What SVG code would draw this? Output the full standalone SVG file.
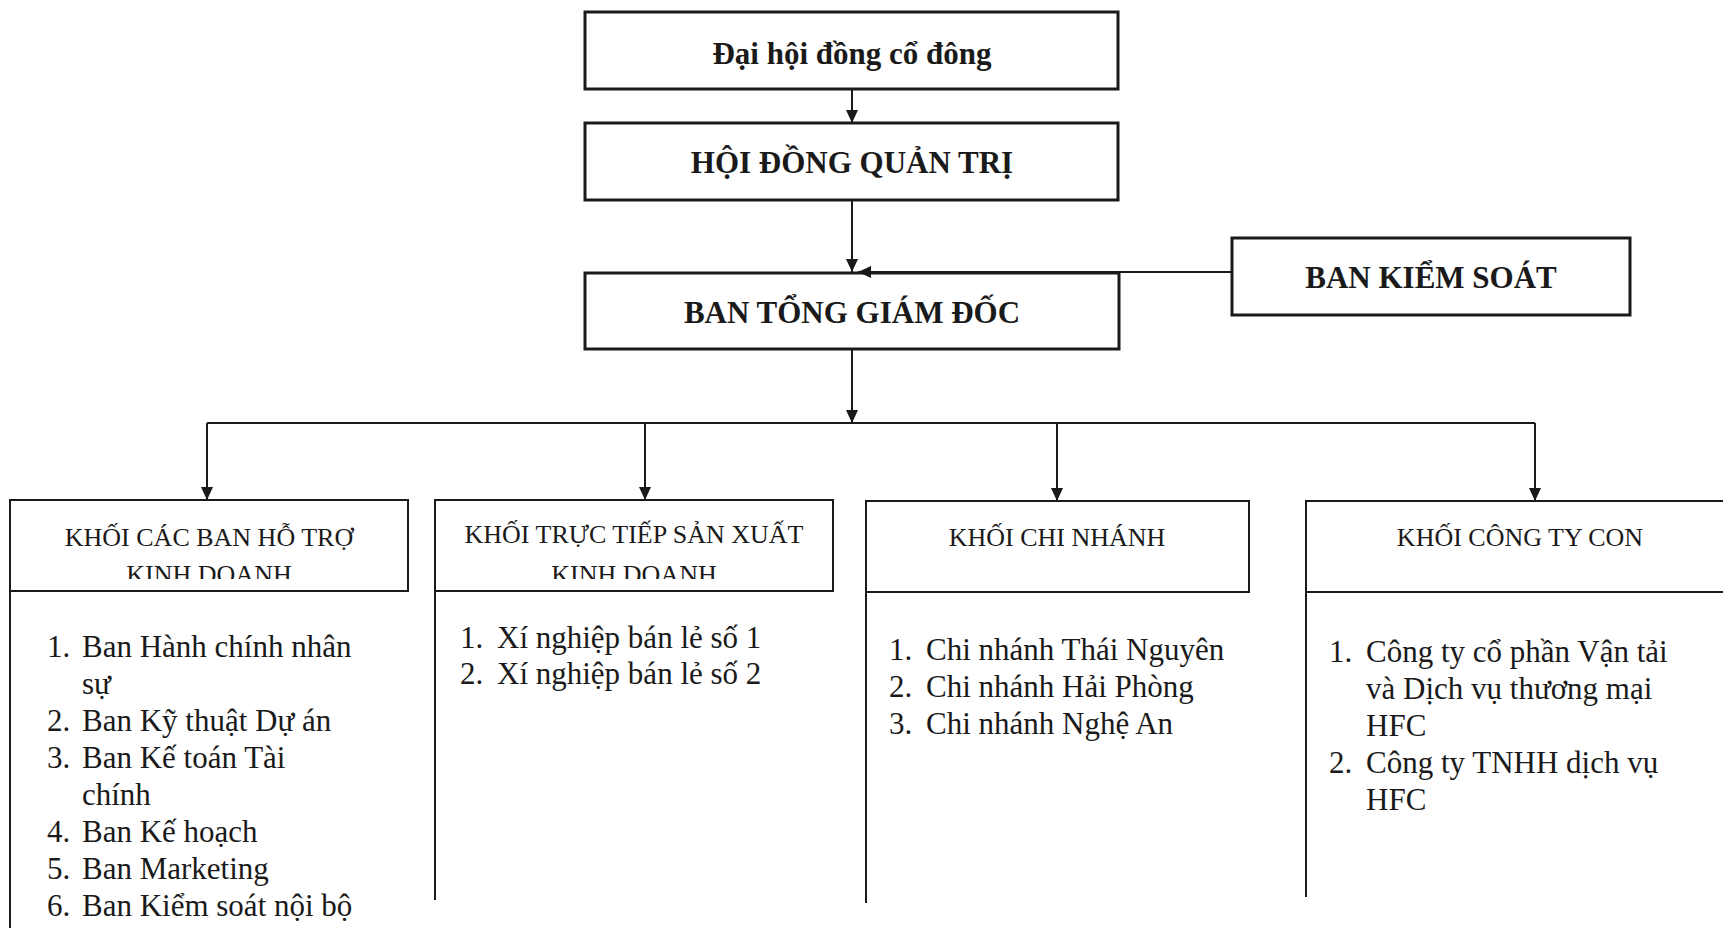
<svg xmlns="http://www.w3.org/2000/svg" width="1723" height="928" viewBox="0 0 1723 928">
<style>
.bg{fill:#ffffff}
.box{fill:none;stroke:#1a1a1a;stroke-width:3}
.hdr{fill:none;stroke:#1a1a1a;stroke-width:2}
.edge{fill:none;stroke:#1a1a1a;stroke-width:2}
.t{font-family:"Liberation Serif","Times New Roman",serif;fill:#1a1a1a}
.tb{font-size:31px;font-weight:bold;text-anchor:middle}
.th{font-size:26px;text-anchor:middle}
.ti{font-size:31px}
</style>
<defs>
<marker id="arr" viewBox="0 0 13 12" refX="13" refY="6" markerWidth="13" markerHeight="12" markerUnits="userSpaceOnUse" orient="auto">
<path d="M0,0 L13,6 L0,12 z" fill="#1a1a1a"/>
</marker>
<clipPath id="hclip" clipPathUnits="userSpaceOnUse"><rect x="0" y="0" width="1723" height="579"/></clipPath>
</defs>
<rect class="bg" x="0" y="0" width="1723" height="928"/>

<g id="connectors">
<path class="edge" d="M852,89 L852,123" marker-end="url(#arr)"/>
<path class="edge" d="M852,200 L852,272" marker-end="url(#arr)"/>
<path class="edge" d="M1232,272 L858,272" marker-end="url(#arr)"/>
<path class="edge" d="M852,349 L852,423" marker-end="url(#arr)"/>
<path class="edge" d="M207,423 L1535,423"/>
<path class="edge" d="M207,423 L207,500" marker-end="url(#arr)"/>
<path class="edge" d="M645,423 L645,500" marker-end="url(#arr)"/>
<path class="edge" d="M1057,423 L1057,501" marker-end="url(#arr)"/>
<path class="edge" d="M1535,423 L1535,501" marker-end="url(#arr)"/>
</g>

<g id="dhcd">
<rect class="box" x="585" y="12" width="533" height="77"/>
<text class="t tb" x="852" y="64">Đại hội đồng cổ đông</text>
</g>

<g id="hdqt">
<rect class="box" x="585" y="123" width="533" height="77"/>
<text class="t tb" x="852" y="173">HỘI ĐỒNG QUẢN TRỊ</text>
</g>

<g id="btgd">
<rect class="box" x="585" y="273" width="534" height="76"/>
<text class="t tb" x="852" y="323">BAN TỔNG GIÁM ĐỐC</text>
</g>

<g id="bks">
<rect class="box" x="1232" y="238" width="398" height="77"/>
<text class="t tb" x="1431" y="288">BAN KIỂM SOÁT</text>
</g>

<g id="khoi-ho-tro">
<rect class="hdr" x="10" y="500" width="398" height="91"/>
<path class="hdr" d="M10,591 L10,928"/>
<g clip-path="url(#hclip)">
<text class="t th" x="209" y="546">KHỐI CÁC BAN HỖ TRỢ</text>
<text class="t th" x="209" y="583">KINH DOANH</text>
</g>
<g class="t ti">
<text x="47" y="657">1.</text><text x="82" y="657">Ban Hành chính nhân</text>
<text x="82" y="694">sự</text>
<text x="47" y="731">2.</text><text x="82" y="731">Ban Kỹ thuật Dự án</text>
<text x="47" y="768">3.</text><text x="82" y="768">Ban Kế toán Tài</text>
<text x="82" y="805">chính</text>
<text x="47" y="842">4.</text><text x="82" y="842">Ban Kế hoạch</text>
<text x="47" y="879">5.</text><text x="82" y="879">Ban Marketing</text>
<text x="47" y="916">6.</text><text x="82" y="916">Ban Kiểm soát nội bộ</text>
</g>
</g>

<g id="khoi-truc-tiep">
<rect class="hdr" x="435" y="500" width="398" height="91"/>
<path class="hdr" d="M435,591 L435,900"/>
<g clip-path="url(#hclip)">
<text class="t th" x="634" y="543">KHỐI TRỰC TIẾP SẢN XUẤT</text>
<text class="t th" x="634" y="583">KINH DOANH</text>
</g>
<g class="t ti">
<text x="460" y="648">1.</text><text x="497" y="648">Xí nghiệp bán lẻ số 1</text>
<text x="460" y="684">2.</text><text x="497" y="684">Xí nghiệp bán lẻ số 2</text>
</g>
</g>

<g id="khoi-chi-nhanh">
<rect class="hdr" x="866" y="501" width="383" height="91"/>
<path class="hdr" d="M866,592 L866,903"/>
<text class="t th" x="1057" y="546">KHỐI CHI NHÁNH</text>
<g class="t ti">
<text x="889" y="660">1.</text><text x="926" y="660">Chi nhánh Thái Nguyên</text>
<text x="889" y="697">2.</text><text x="926" y="697">Chi nhánh Hải Phòng</text>
<text x="889" y="734">3.</text><text x="926" y="734">Chi nhánh Nghệ An</text>
</g>
</g>

<g id="khoi-cong-ty-con">
<rect class="hdr" x="1306" y="501" width="440" height="91"/>
<path class="hdr" d="M1306,592 L1306,897"/>
<text class="t th" x="1520" y="546">KHỐI CÔNG TY CON</text>
<g class="t ti">
<text x="1329" y="662">1.</text><text x="1366" y="662">Công ty cổ phần Vận tải</text>
<text x="1366" y="699">và Dịch vụ thương mại</text>
<text x="1366" y="736">HFC</text>
<text x="1329" y="773">2.</text><text x="1366" y="773">Công ty TNHH dịch vụ</text>
<text x="1366" y="810">HFC</text>
</g>
</g>
</svg>
